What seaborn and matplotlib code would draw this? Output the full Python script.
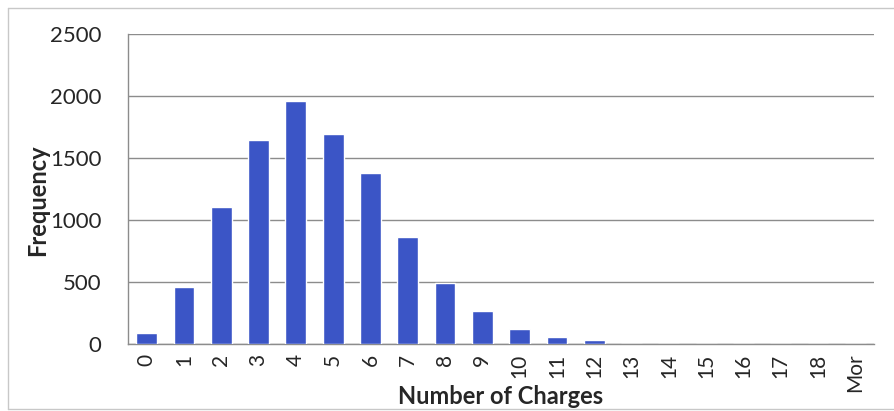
import numpy as np
import pandas as pd
import matplotlib
matplotlib.use("Agg")
import matplotlib.pyplot as plt
import seaborn as sns

# histogram bins and counts
bins = ["0", "1", "2", "3", "4", "5", "6", "7", "8", "9", "10",
        "11", "12", "13", "14", "15", "16", "17", "18", "Mor"]
counts = [92, 461, 1108, 1642, 1958, 1690, 1383, 866, 493, 267, 121,
          60, 30, 0, 0, 0, 0, 0, 0, 0]
y_ticks = [0, 500, 1000, 1500, 2000, 2500]

BAR_COLOR = "#3b55c6"
GRID_COLOR = "#8c8c8c"

sns.set_theme(style="white")
plt.rcParams["font.family"] = ["Lato", "DejaVu Sans"]

df = pd.DataFrame({"bin": bins, "count": counts})

W, H = 894, 411
fig = plt.figure(figsize=(W / 100, H / 100), dpi=100)
ax = fig.add_axes([128 / W, 1 - 344 / H, (874 - 128) / W, (344 - 34) / H])

sns.barplot(data=df, x="bin", y="count", color=BAR_COLOR, saturation=1,
            width=0.56, ax=ax, zorder=3)

ax.set_ylim(0, 2500)
ax.set_yticks(y_ticks)
ax.set_xlim(-0.5, len(bins) - 0.5)
ax.yaxis.grid(True, color=GRID_COLOR, linewidth=1.0, zorder=0)
ax.set_axisbelow(True)

# tick marks sit between categories, labels in the middle
ax.set_xticks(np.arange(-0.5, len(bins), 1.0), minor=True)
ax.tick_params(axis="x", which="major", length=0, labelsize=15,
               labelrotation=90, pad=7)
ax.tick_params(axis="x", which="minor", length=6, color=GRID_COLOR, width=1)
ax.tick_params(axis="y", length=6, color=GRID_COLOR, width=1, labelsize=16, pad=13)
ax.tick_params(axis="both", direction="out")

for side in ["top", "right"]:
    ax.spines[side].set_visible(False)
for side in ["left", "bottom"]:
    ax.spines[side].set_color(GRID_COLOR)
    ax.spines[side].set_linewidth(1.0)

ax.set_xlabel("")
ax.set_ylabel("")
fig.text(501 / W, 1 - 396 / H, "Number of Charges", fontsize=17,
         fontweight="bold", ha="center", va="center")
fig.text(38 / W, 1 - 200 / H, "Frequency", fontsize=17, fontweight="bold",
         rotation=90, ha="center", va="center")

# light frame around the chart (top, left, bottom)
frame_kw = dict(transform=fig.transFigure, color="#c8c8c8", linewidth=1.0)
fig.add_artist(plt.Line2D([8 / W, 1], [1 - 8 / H, 1 - 8 / H], **frame_kw))
fig.add_artist(plt.Line2D([8 / W, 8 / W], [1 - 8 / H, 1 - 409 / H], **frame_kw))
fig.add_artist(plt.Line2D([8 / W, 1], [1 - 409 / H, 1 - 409 / H], **frame_kw))

fig.savefig("out.png", dpi=100, facecolor="white")
